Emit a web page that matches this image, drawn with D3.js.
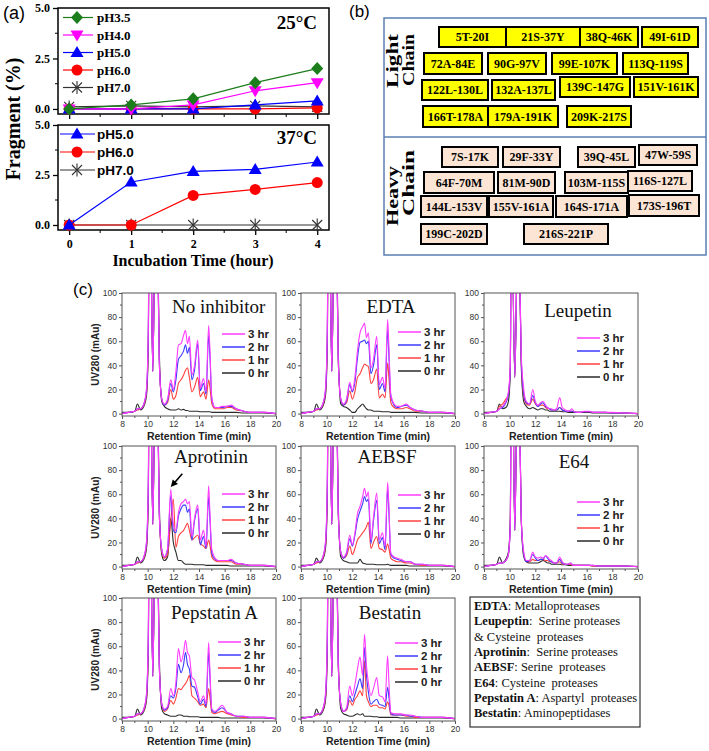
<!DOCTYPE html>
<html>
<head>
<meta charset="utf-8">
<script src="https://cdn.jsdelivr.net/npm/d3@7/dist/d3.min.js"></script>
<style>
html,body{margin:0;padding:0;background:#fff;}
svg{display:block;}
</style>
</head>
<body>
<svg id="fig" width="709" height="751"></svg>
<script>
// ================= Panel (a) data =================
const hours = [0, 1, 2, 3, 4];
const fragTicks = [0, 2.5, 5];
const labels25 = ["pH3.5", "pH4.0", "pH5.0", "pH6.0", "pH7.0"];
const pH35at25 = [0, 0.2, 0.5, 1.3, 2.0];
const pH40at25 = [0, 0, 0.2, 0.9, 1.3];
const pH50at25 = [0, 0, 0, 0.2, 0.4];
const pH60at25 = [0, 0, 0, 0, 0.05];
const pH70at25 = [0.1, 0.15, 0.1, 0.15, 0.1];
const labels37 = ["pH5.0", "pH6.0", "pH7.0"];
const pH50at37 = [0, 2.15, 2.68, 2.78, 3.15];
const pH60at37 = [0, 0, 1.48, 1.78, 2.12];
const pH70at37 = [0, 0, 0, 0, 0];

// ================= Panel (b) data =================
const lightChain = ["5T-20I","21S-37Y","38Q-46K","49I-61D","72A-84E","90G-97V","99E-107K","113Q-119S",
  "122L-130L","132A-137L","139C-147G","151V-161K","166T-178A","179A-191K","209K-217S"];
const heavyChain = ["7S-17K","29F-33Y","39Q-45L","47W-59S","64F-70M","81M-90D","103M-115S","116S-127L",
  "144L-153V","155V-161A","164S-171A","173S-196T","199C-202D","216S-221P"];

// ================= Panel (c) data =================
const rt = [8.0,8.5,9.0,9.2,9.45,9.7,9.9,10.05,10.15,10.25,10.4,10.55,10.65,10.75,10.9,11.1,
  11.3,11.55,11.8,12.0,12.2,12.4,12.6,12.8,12.95,13.1,13.25,13.45,13.65,13.9,14.1,14.35,14.55,14.75,14.85,15.0,
  15.25,15.5,15.8,16.2,16.5,16.9,17.5,18.0,19.0,20.0];
const rtTicks = [8, 10, 12, 14, 16, 18, 20];
const uvTicks = [0, 20, 40, 60, 80, 100];
const hrLabels = ["3 hr", "2 hr", "1 hr", "0 hr"];

const noInhibitor3h = [0,1,2,4,4,8,20,70,250,160,35,150,260,170,45,12, 8,12,28,20,35,57,58,65,69,58,64,32,40,61,21,29,18,73,54,13, 5,5,6,6,7,4,2,1,1,0];
const noInhibitor2h = [0,1,2,4,4,8,18,65,250,160,35,150,260,170,45,12, 7,11,25,18,28,45,48,52,57,50,55,28,36,58,19,25,16,65,48,12, 5,5,5,6,6,4,2,1,1,0];
const noInhibitor1h = [0,1,2,3,4,7,16,60,250,160,35,150,260,170,45,12, 7,9,20,12,15,25,28,32,36,38,30,18,22,30,14,18,12,28,22,8, 4,4,4,5,5,3,2,1,1,0];
const noInhibitor0h = [1,1,2,8,3,6,14,55,250,160,35,150,260,170,55,10, 6,4,3,3,3,4,3,3.5,2.5,2.5,2,2,2,2,1.5,1.5,1.5,1.5,1.5,1, 1,1,1,1,1,1,0.5,0.5,0.5,0];

const edta3h = [0,1,2,4,4,8,20,70,250,160,35,150,260,170,45,12, 8,12,26,19,30,52,67,72,75,63,67,38,45,64,24,30,21,78,55,16, 8,6,6,8,5,3,2,1,1,0];
const edta2h = [0,1,2,4,4,8,18,65,250,160,35,150,260,170,45,12, 7,11,24,18,26,46,59,60,61,58,60,33,40,57,20,25,18,70,48,14, 7,5,6,7,5,3,2,1,1,0];
const edta1h = [0,1,2,3,4,7,16,60,250,160,35,150,260,170,45,12, 7,9,19,12,18,30,33,38,41,40,39,25,28,37,13,16,13,42,30,9, 5,4,4,5,4,2,2,1,1,0];
const edta0h = [1,1,2,8,3,6,14,55,250,160,35,150,260,170,55,8, 6,5,3,1,1,4,6,8,6,4,3,3,2,2,2,1.5,1.5,1.5,1.5,1, 1,1,1,1,1,1,0.5,0.5,0.5,0];

const leupetin3h = [0,1,2,4,6,10,18,40,250,130,30,120,220,140,50,20, 10,8,20,10,7,9,10,7,5,4,4,3,4,13,5,3,2,3,4,2, 1,1,2,2,1,1,1,1,0.5,0];
const leupetin2h = [0,1,2,4,5,9,16,38,250,130,30,120,220,140,45,16, 9,8,15,9,6,8,9,6,5,4,3,3,3,5,3,2,2,2,2,1.5, 1,1,1.5,1.5,1,1,1,0.5,0.5,0];
const leupetin1h = [0,1,2,6,8,12,16,40,250,130,30,120,220,140,45,14, 8,7,12,8,6,7,7,5,4,4,3,3,3,5,3,2,2,2,2,1.5, 1,1,1.5,1.5,1,1,1,0.5,0.5,0];
const leupetin0h = [1,1,2,8,4,5,10,35,250,130,30,120,220,140,40,10, 6,4,5,4,3,4,4,3,3,2,2,2,2,2,1.5,1.5,1,1,1,1, 1,1,1,1,0.5,0.5,0.5,0.5,0.5,0];

const aprotinin3h = [0,1,2,4,4,8,20,70,250,160,35,150,260,170,45,14, 8,15,64,35,30,45,52,54,56,52,54,25,40,51,22,30,17,67,45,14, 7,5,5,5,6,3,2,1,1,0];
const aprotinin2h = [0,1,2,4,4,8,18,65,250,160,35,150,260,170,45,14, 8,14,59,30,28,42,48,51,51,45,48,22,38,48,18,25,15,58,40,11, 6,5,5,5,5,3,2,1,1,0];
const aprotinin1h = [0,1,2,3,4,7,16,60,250,160,35,150,260,170,45,12, 7,10,38,56,16,25,28,30,33,36,30,22,24,26,19,17,15,22,18,8, 5,4,4,4,4,2,2,1,1,0];
const aprotinin0h = [1,1,2,8,3,6,14,55,250,160,35,150,260,170,55,10, 5,8,40,20,12,5,5,3,2,2,2,2,1.5,1.5,1.5,1.5,1,1,1,1, 1,1,1,1,0.5,0.5,0.5,0.5,0.5,0];

const aebsf3h = [0,1,2,4,4,8,20,70,250,160,35,150,260,170,45,12, 8,12,26,18,28,44,50,58,65,58,62,22,41,61,22,28,17,70,50,11, 8,7,6,4,4,2,2,1,1,0];
const aebsf2h = [0,1,2,4,4,8,18,65,250,160,35,150,260,170,45,12, 7,11,23,17,26,39,46,52,58,54,56,19,38,55,19,24,14,65,45,10, 7,6,5,4,4,2,2,1,1,0];
const aebsf1h = [0,1,2,3,4,7,16,60,250,160,35,150,260,170,45,12, 7,9,17,10,15,22,25,28,30,33,37,15,20,25,15,14,12,19,15,7, 5,4,4,3,3,2,1,1,1,0];
const aebsf0h = [1,1,2,7,3,6,14,55,250,160,35,150,260,170,55,8, 5,4,3,3,3,3,6,3,2.5,2,2,2,2,1.5,1.5,1.5,1.5,2,1.5,1, 1,1,1,1,0.5,0.5,0.5,0.5,0.5,0];

const e64_3h = [0,1,2,3,3,5,10,35,250,160,30,140,240,150,40,12, 5,5,12,8,7,8,7,9,8,6,5,3,3,8,4,2,2,3,2,1, 1,1,1,1,1,0.5,0.5,0.5,0.5,0];
const e64_2h = [0,1,2,3,3,5,10,35,250,160,30,140,240,150,40,10, 4,5,10,7,5,6,6,9,7,5,4,3,3,6,3,2,2,3,2,1, 1,1,1,1,1,0.5,0.5,0.5,0.5,0];
const e64_1h = [0,1,2,3,3,5,10,35,250,160,30,140,240,150,40,10, 4,4,6,5,5,6,6,5,5,4,4,3,3,4,2,2,2,2,1,1, 1,1,1,1,0.5,0.5,0.5,0.5,0.5,0];
const e64_0h = [1,1,2,8,3,6,12,40,250,160,30,140,240,150,40,8, 4,3,3,3,3,4,5,4,3,3,2,2,2,2,1.5,1.5,1,1,1,1, 1,1,1,1,0.5,0.5,0.5,0.5,0.5,0];

const pepstatin3h = [0,1,2,4,4,8,20,70,250,160,35,150,260,170,45,12, 8,10,25,19,30,58,47,55,65,55,52,34,32,22,14,19,12,63,40,8, 6,8,11,5,4,2,2,1,1,0];
const pepstatin2h = [0,1,2,4,4,8,18,65,250,160,35,150,260,170,45,12, 7,9,19,17,25,45,38,45,55,45,41,27,26,18,12,16,10,55,35,7, 5,7,9,5,4,2,2,1,1,0];
const pepstatin1h = [0,1,2,3,4,7,16,60,250,160,35,150,260,170,45,12, 6,8,15,12,17,25,24,27,29,32,36,19,17,14,11,12,9,25,18,5, 4,5,6,4,3,2,1,1,1,0];
const pepstatin0h = [1,1,2,8,3,6,14,55,250,160,35,150,260,170,55,8, 4,3,2,2,2,3,3,2,2,2,1.5,1.5,1.5,1.5,1,1,1,1,1,1, 1,1,0.5,0.5,0.5,0.5,0.5,0.5,0.5,0];

const bestatin3h = [0,1,2,4,4,8,20,70,250,160,35,150,260,170,45,12, 6,9,27,19,28,41,51,36,70,44,30,19,25,34,19,18,14,52,30,5, 4,4,4,3,3,2,1,1,1,0];
const bestatin2h = [0,1,2,4,4,8,18,65,250,160,35,150,260,170,45,12, 6,8,19,14,20,27,33,25,59,36,22,12,14,16,12,11,10,26,18,4, 3,3,3,3,2,2,1,1,1,0];
const bestatin1h = [0,1,2,3,4,7,16,60,250,160,35,150,260,170,45,12, 6,7,15,11,16,19,23,19,48,19,14,10,11,11,9,9,8,14,11,3, 3,3,3,2,2,1,1,1,1,0];
const bestatin0h = [1,1,2,8,3,6,14,55,250,160,35,150,260,170,55,8, 4,3,2,2,3,4,3,4,2,2,2,2,1.5,1.5,1,1,1,1,1,1, 1,1,0.5,0.5,0.5,0.5,0.5,0.5,0.5,0];

const inhibitorNames = ["No inhibitor","EDTA","Leupetin","Aprotinin","AEBSF","E64","Pepstatin A","Bestatin"];
const inhibitorTraces = [
  [noInhibitor3h, noInhibitor2h, noInhibitor1h, noInhibitor0h],
  [edta3h, edta2h, edta1h, edta0h],
  [leupetin3h, leupetin2h, leupetin1h, leupetin0h],
  [aprotinin3h, aprotinin2h, aprotinin1h, aprotinin0h],
  [aebsf3h, aebsf2h, aebsf1h, aebsf0h],
  [e64_3h, e64_2h, e64_1h, e64_0h],
  [pepstatin3h, pepstatin2h, pepstatin1h, pepstatin0h],
  [bestatin3h, bestatin2h, bestatin1h, bestatin0h]
];
const notesBold = ["EDTA","Leupeptin","","Aprotinin","AEBSF","E64","Pepstatin A","Bestatin"];
const notesText = [": Metalloproteases",":  Serine proteases","& Cysteine  proteases",":  Serine proteases",": Serine  proteases",": Cysteine  proteases",": Aspartyl  proteases",": Aminopeptidases"];
const arrowFrom = [12.7, 77], arrowTo = [11.8, 66];

// ================= styles / layout =================
const SERIF = "'Liberation Serif','Times New Roman',serif";
const SANS = "'Liberation Sans',Arial,sans-serif";
const phStyle = {
  "pH3.5": {color: "#1b7d1b", marker: "diamond"},
  "pH4.0": {color: "#ff00ff", marker: "tridown"},
  "pH5.0": {color: "#0000ff", marker: "triup"},
  "pH6.0": {color: "#ff0000", marker: "circle"},
  "pH7.0": {color: "#333333", marker: "star"}
};
const hrColors = ["#ff3cff", "#3a3aff", "#ff4040", "#2a2a2a"];

const svg = d3.select("#fig");

// panel letters
svg.append("text").attr("x", 3).attr("y", 19).text("(a)").attr("font-family", SANS).attr("font-size", 18);
svg.append("text").attr("x", 349).attr("y", 17).text("(b)").attr("font-family", SANS).attr("font-size", 17);
svg.append("text").attr("x", 73).attr("y", 295).text("(c)").attr("font-family", SANS).attr("font-size", 17);

// ================= Panel (a) =================
const xA = d3.scaleLinear().domain([-0.18, 4.19]).range([58, 329]);
const yA25 = d3.scaleLinear().domain([-0.25, 5]).range([114, 8]);
const yA37 = d3.scaleLinear().domain([-0.25, 5]).range([230, 125]);

function drawMarker(g, type, cx, cy, color) {
  const m = g.append("g").attr("transform", `translate(${cx},${cy})`);
  if (type === "circle") m.append("circle").attr("r", 5.5).attr("fill", color);
  else if (type === "star") {
    [[0,-6.5,0,6.5],[-5,-5,5,5],[-5,5,5,-5]].forEach(s =>
      m.append("line").attr("x1", s[0]).attr("y1", s[1]).attr("x2", s[2]).attr("y2", s[3])
        .attr("stroke", color).attr("stroke-width", 1.1));
  } else {
    const p = {diamond: "M0,-6.5L6,0L0,6.5L-6,0Z", tridown: "M-6.5,-4.5L6.5,-4.5L0,6.5Z", triup: "M0,-6.5L6.5,4.5L-6.5,4.5Z"}[type];
    m.append("path").attr("d", p).attr("fill", color);
  }
}

function frameA(yS, showLabels) {
  const g = svg.append("g");
  const [yb, yt] = yS.range();
  const ax = g.append("g").attr("transform", "translate(58,0)")
    .call(d3.axisLeft(yS).tickValues(fragTicks).tickFormat(d3.format(".1f")).tickSize(5).tickSizeOuter(0));
  ax.select(".domain").remove();
  ax.selectAll("line").attr("stroke", "#000").attr("stroke-width", 1.3);
  ax.selectAll("text").attr("font-family", SERIF).attr("font-weight", "bold").attr("font-size", 12).attr("fill", "#000");
  const bx = g.append("g").attr("transform", `translate(0,${yb})`)
    .call(d3.axisBottom(xA).tickValues(hours).tickSize(5).tickSizeOuter(0).tickFormat(showLabels ? d3.format("d") : () => ""));
  bx.select(".domain").remove();
  bx.selectAll("line").attr("stroke", "#000").attr("stroke-width", 1.3);
  bx.selectAll("text").attr("y", 9).attr("font-family", SERIF).attr("font-weight", "bold").attr("font-size", 12).attr("fill", "#000");
  [0.5, 1.5, 2.5, 3.5].forEach(v => g.append("line").attr("x1", xA(v)).attr("x2", xA(v)).attr("y1", yb).attr("y2", yb + 3).attr("stroke", "#000"));
  [1.25, 3.75].forEach(v => g.append("line").attr("x1", 58).attr("x2", 55).attr("y1", yS(v)).attr("y2", yS(v)).attr("stroke", "#000"));
  g.append("rect").attr("x", 58).attr("y", yt).attr("width", 271).attr("height", yb - yt)
    .attr("fill", "none").attr("stroke", "#000").attr("stroke-width", 1.5);
}
frameA(yA25, false);
frameA(yA37, true);

function seriesA(yS, label, vals) {
  const st = phStyle[label];
  const g = svg.append("g");
  g.append("path").datum(vals).attr("fill", "none").attr("stroke", st.color).attr("stroke-width", 1.2)
    .attr("d", d3.line().x((d, i) => xA(hours[i])).y(d => yS(d)));
  vals.forEach((v, i) => drawMarker(g, st.marker, xA(hours[i]), yS(v), st.color));
}
[[labels25[4], pH70at25], [labels25[3], pH60at25], [labels25[2], pH50at25], [labels25[1], pH40at25], [labels25[0], pH35at25]]
  .forEach(s => seriesA(yA25, s[0], s[1]));
[[labels37[2], pH70at37], [labels37[1], pH60at37], [labels37[0], pH50at37]]
  .forEach(s => seriesA(yA37, s[0], s[1]));

function legendA(labels, y0, step, x0, x1, fam) {
  labels.forEach((lab, i) => {
    const st = phStyle[lab], y = y0 + i * step;
    const g = svg.append("g");
    g.append("line").attr("x1", x0).attr("x2", x1).attr("y1", y).attr("y2", y).attr("stroke", st.color).attr("stroke-width", 1.2);
    drawMarker(g, st.marker, 77, y, st.color);
    g.append("text").attr("x", 97).attr("y", y + 4.5).text(lab).attr("font-family", fam).attr("font-weight", "bold")
      .attr("font-size", fam === SERIF ? 13 : 13.5);
  });
}
legendA(labels25, 17.5, 17.5, 63, 93, SERIF);
legendA(labels37, 134, 18, 60, 95, SANS);

svg.append("text").attr("x", 317).attr("y", 29).attr("text-anchor", "end").text("25°C")
  .attr("font-family", SERIF).attr("font-weight", "bold").attr("font-size", 19);
svg.append("text").attr("x", 317).attr("y", 144).attr("text-anchor", "end").text("37°C")
  .attr("font-family", SERIF).attr("font-weight", "bold").attr("font-size", 19);
svg.append("text").attr("transform", "translate(20,119) rotate(-90)").attr("text-anchor", "middle").text("Fragment (%)")
  .attr("font-family", SERIF).attr("font-weight", "bold").attr("font-size", 20);
svg.append("text").attr("x", 193).attr("y", 266).attr("text-anchor", "middle").text("Incubation Time (hour)")
  .attr("font-family", SERIF).attr("font-weight", "bold").attr("font-size", 16);

// ================= Panel (b) =================
const lightBoxes = [[439,506,27,47],[506,580,27,47],[580,638,27,47],[642,698,27,47],
  [424,482,53,74],[488,546,53,74],[552,617,53,74],[623,688,53,74],
  [422,488,80,100],[492,555,80,100],[560,630,77,97],[634,698,77,97],
  [423,488,106,127],[488,558,106,127],[567,631,106,127]];
const heavyBoxes = [[442,498,147,167],[503,560,147,167],[578,635,147,167],[639,697,145,165],
  [424,494,172,193],[498,555,172,193],[565,628,172,193],[628,692,171,191],
  [421,487,196,217],[489,553,196,217],[556,627,196,217],[629,699,195,216],
  [421,487,224,244],[524,608,224,244]];
svg.append("rect").attr("x", 384).attr("y", 18).attr("width", 322).attr("height", 237)
  .attr("fill", "#fff").attr("stroke", "#5b7fb3").attr("stroke-width", 1.5);
svg.append("line").attr("x1", 384).attr("x2", 706).attr("y1", 137).attr("y2", 137).attr("stroke", "#5b7fb3").attr("stroke-width", 1.5);

function chainBoxes(labels, boxes, fill) {
  labels.forEach((lab, i) => {
    const b = boxes[i];
    svg.append("rect").attr("x", b[0]).attr("y", b[2]).attr("width", b[1] - b[0]).attr("height", b[3] - b[2])
      .attr("fill", fill).attr("stroke", "#000").attr("stroke-width", 2);
    svg.append("text").attr("x", (b[0] + b[1]) / 2).attr("y", (b[2] + b[3]) / 2 + 4.3).attr("text-anchor", "middle")
      .text(lab).attr("font-family", SERIF).attr("font-weight", "bold").attr("font-size", 12);
  });
}
chainBoxes(lightChain, lightBoxes, "#ffff00");
chainBoxes(heavyChain, heavyBoxes, "#fce5d5");

function rotLabel(txt, x, yc, len) {
  svg.append("text").attr("transform", `translate(${x},${yc}) rotate(-90)`).attr("text-anchor", "middle")
    .attr("textLength", len).attr("lengthAdjust", "spacingAndGlyphs")
    .text(txt).attr("font-family", SERIF).attr("font-weight", "bold").attr("font-size", 16);
}
rotLabel("Light", 398, 61, 54);
rotLabel("Chain", 414, 60, 52);
rotLabel("Heavy", 398, 196, 60);
rotLabel("Chain", 414, 183, 66);

// ================= Panel (c) =================
const colX = [122, 301, 484], rowY = [293, 446, 598];
const PW = 154, PH = 123;
const panelLayout = [
  {col: 0, row: 0, tdx: 50, tdy: 20, anchor: "start", ldx: 100, ldy: 41},
  {col: 1, row: 0, tdx: 90, tdy: 20, anchor: "middle", ldx: 97, ldy: 39},
  {col: 2, row: 0, tdx: 94, tdy: 24, anchor: "middle", ldx: 93, ldy: 45},
  {col: 0, row: 1, tdx: 52, tdy: 17, anchor: "start", ldx: 100, ldy: 48},
  {col: 1, row: 1, tdx: 86, tdy: 17, anchor: "middle", ldx: 97, ldy: 49},
  {col: 2, row: 1, tdx: 90, tdy: 22, anchor: "middle", ldx: 93, ldy: 56},
  {col: 0, row: 2, tdx: 49, tdy: 21, anchor: "start", ldx: 96, ldy: 44},
  {col: 1, row: 2, tdx: 89, tdy: 21, anchor: "middle", ldx: 94, ldy: 45}
];

inhibitorNames.forEach((name, i) => {
  const L = panelLayout[i];
  const x0 = colX[L.col], y0 = rowY[L.row];
  const x = d3.scaleLinear().domain([8, 20]).range([x0, x0 + PW]);
  const y = d3.scaleLinear().domain([-2, 100]).range([y0 + PH, y0]);
  const g = svg.append("g");
  g.append("clipPath").attr("id", "clip" + i).append("rect").attr("x", x0).attr("y", y0).attr("width", PW).attr("height", PH);

  const ya = g.append("g").attr("transform", `translate(${x0},0)`)
    .call(d3.axisLeft(y).tickValues(uvTicks).tickSize(3).tickPadding(2).tickSizeOuter(0));
  ya.select(".domain").remove();
  ya.selectAll("line").attr("stroke", "#555");
  ya.selectAll("text").attr("font-family", SANS).attr("font-size", 8.5).attr("fill", "#333");
  [10, 30, 50, 70, 90].forEach(v => g.append("line").attr("x1", x0 - 2).attr("x2", x0).attr("y1", y(v)).attr("y2", y(v)).attr("stroke", "#555"));

  const xa = g.append("g").attr("transform", `translate(0,${y0 + PH})`)
    .call(d3.axisBottom(x).tickValues(rtTicks).tickSize(3).tickPadding(2).tickSizeOuter(0));
  xa.select(".domain").remove();
  xa.selectAll("line").attr("stroke", "#555");
  xa.selectAll("text").attr("font-family", SANS).attr("font-size", 8.5).attr("fill", "#333");
  [9, 11, 13, 15, 17, 19].forEach(v => g.append("line").attr("x1", x(v)).attr("x2", x(v)).attr("y1", y0 + PH).attr("y2", y0 + PH + 2).attr("stroke", "#555"));

  const line = d3.line().x((d, j) => x(rt[j])).y(d => y(d)).curve(d3.curveMonotoneX);
  const traces = inhibitorTraces[i];
  [3, 2, 1, 0].forEach(k => {
    g.append("path").datum(traces[k]).attr("d", line).attr("fill", "none")
      .attr("stroke", hrColors[k]).attr("stroke-width", 1.1).attr("clip-path", `url(#clip${i})`);
  });

  g.append("rect").attr("x", x0).attr("y", y0).attr("width", PW).attr("height", PH)
    .attr("fill", "none").attr("stroke", "#555").attr("stroke-width", 1);

  g.append("text").attr("x", x0 + L.tdx).attr("y", y0 + L.tdy).attr("text-anchor", L.anchor).text(name)
    .attr("font-family", SERIF).attr("font-size", 19).attr("fill", "#111");

  hrLabels.forEach((lab, k) => {
    const ly = y0 + L.ldy + k * 13, lx = x0 + L.ldx;
    g.append("line").attr("x1", lx).attr("x2", lx + 23).attr("y1", ly).attr("y2", ly).attr("stroke", hrColors[k]).attr("stroke-width", 1.5);
    g.append("text").attr("x", lx + 26).attr("y", ly + 4).text(lab)
      .attr("font-family", SANS).attr("font-weight", "bold").attr("font-size", 11.5).attr("fill", "#222");
  });

  g.append("text").attr("x", x0 + PW / 2).attr("y", y0 + PH + 24).attr("text-anchor", "middle").text("Retention Time (min)")
    .attr("font-family", SANS).attr("font-weight", "bold").attr("font-size", 10.5).attr("fill", "#222");
  if (L.col === 0) {
    g.append("text").attr("transform", `translate(99,${y0 + PH / 2}) rotate(-90)`).attr("text-anchor", "middle")
      .text("UV280 (mAu)").attr("font-family", SANS).attr("font-weight", "bold").attr("font-size", 10).attr("fill", "#222");
  }

  if (name === "Aprotinin") {
    const tx = x(arrowTo[0]), ty = y(arrowTo[1]), fx = x(arrowFrom[0]), fy = y(arrowFrom[1]);
    const ang = Math.atan2(ty - fy, tx - fx);
    g.append("line").attr("x1", fx).attr("y1", fy).attr("x2", tx - 5 * Math.cos(ang)).attr("y2", ty - 5 * Math.sin(ang))
      .attr("stroke", "#000").attr("stroke-width", 1.6);
    const h = 7, w = 3.5;
    const bx = tx - h * Math.cos(ang), by = ty - h * Math.sin(ang);
    g.append("path").attr("d", `M${tx},${ty}L${bx + w * Math.sin(ang)},${by - w * Math.cos(ang)}L${bx - w * Math.sin(ang)},${by + w * Math.cos(ang)}Z`)
      .attr("fill", "#000");
  }
});

// legend / notes box
svg.append("rect").attr("x", 470).attr("y", 597).attr("width", 170).attr("height", 130)
  .attr("fill", "#fff").attr("stroke", "#333").attr("stroke-width", 1.2);
notesBold.forEach((b, i) => {
  const t = svg.append("text").attr("x", 474).attr("y", 610 + i * 15.3)
    .attr("font-family", SERIF).attr("font-size", 12.5).attr("fill", "#111").style("white-space", "pre");
  if (b) t.append("tspan").attr("font-weight", "bold").text(b);
  t.append("tspan").text(notesText[i]);
});
</script>
</body>
</html>
